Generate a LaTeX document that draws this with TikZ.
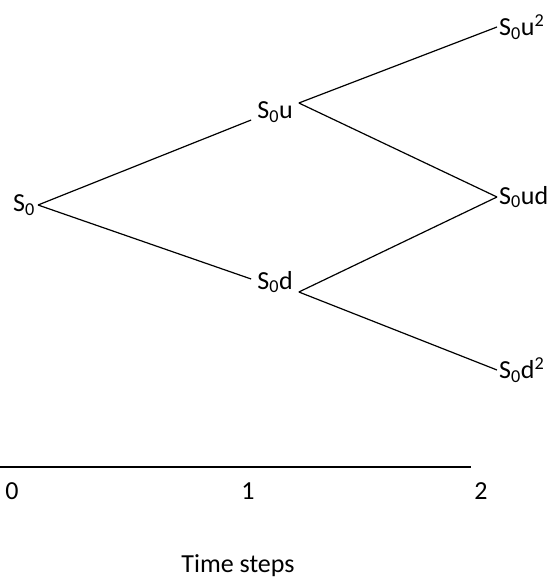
\documentclass[tikz,border=0pt]{standalone}
\usepackage{fontspec}
\setmainfont{Carlito}
\usetikzlibrary{positioning}

\begin{document}
\begin{tikzpicture}[x=1pt,y=-1pt, every node/.style={font=\fontsize{26}{30}\selectfont, inner sep=1pt}]
    \useasboundingbox (0,0) rectangle (556,581);
    % price nodes
    \node[anchor=east, inner sep=3pt] (s0) at (38,205) {S\textsubscript{0}};
    \node[inner sep=6pt] (su) at (275,112) {S\textsubscript{0}u};
    \node[inner sep=6pt] (sd) at (275,282) {S\textsubscript{0}d};
    \node[anchor=west, inner sep=2pt] (suu) at (497,27) {S\textsubscript{0}u\textsuperscript{2}};
    \node[anchor=west, inner sep=2pt] (sud) at (497,197) {S\textsubscript{0}ud};
    \node[anchor=west, inner sep=2pt] (sdd) at (497,370) {S\textsubscript{0}d\textsuperscript{2}};
    \draw[line width=1.2pt] (s0.east) -- ([yshift=-8]su.west);
    \draw[line width=1.2pt] (s0.east) -- ([yshift=3]sd.west);
    \draw[line width=1.2pt] ([yshift=9]su.east) -- (suu.west);
    \draw[line width=1.2pt] ([yshift=9]su.east) -- (sud.west);
    \draw[line width=1.2pt] ([yshift=-10]sd.east) -- (sud.west);
    \draw[line width=1.2pt] ([yshift=-10]sd.east) -- (sdd.west);
    % time axis
    \coordinate (ax0) at (0,467);
    \coordinate (ax2) at (471,467);
    \draw[line width=1.2pt] (ax0) -- (ax2);
    \node (t0) at (12,491) {0};
    \node (t1) at (248,491) {1};
    \node (t2) at (481,491) {2};
    \node (tlbl) at (238,566) {Time steps};
\end{tikzpicture}
\end{document}
